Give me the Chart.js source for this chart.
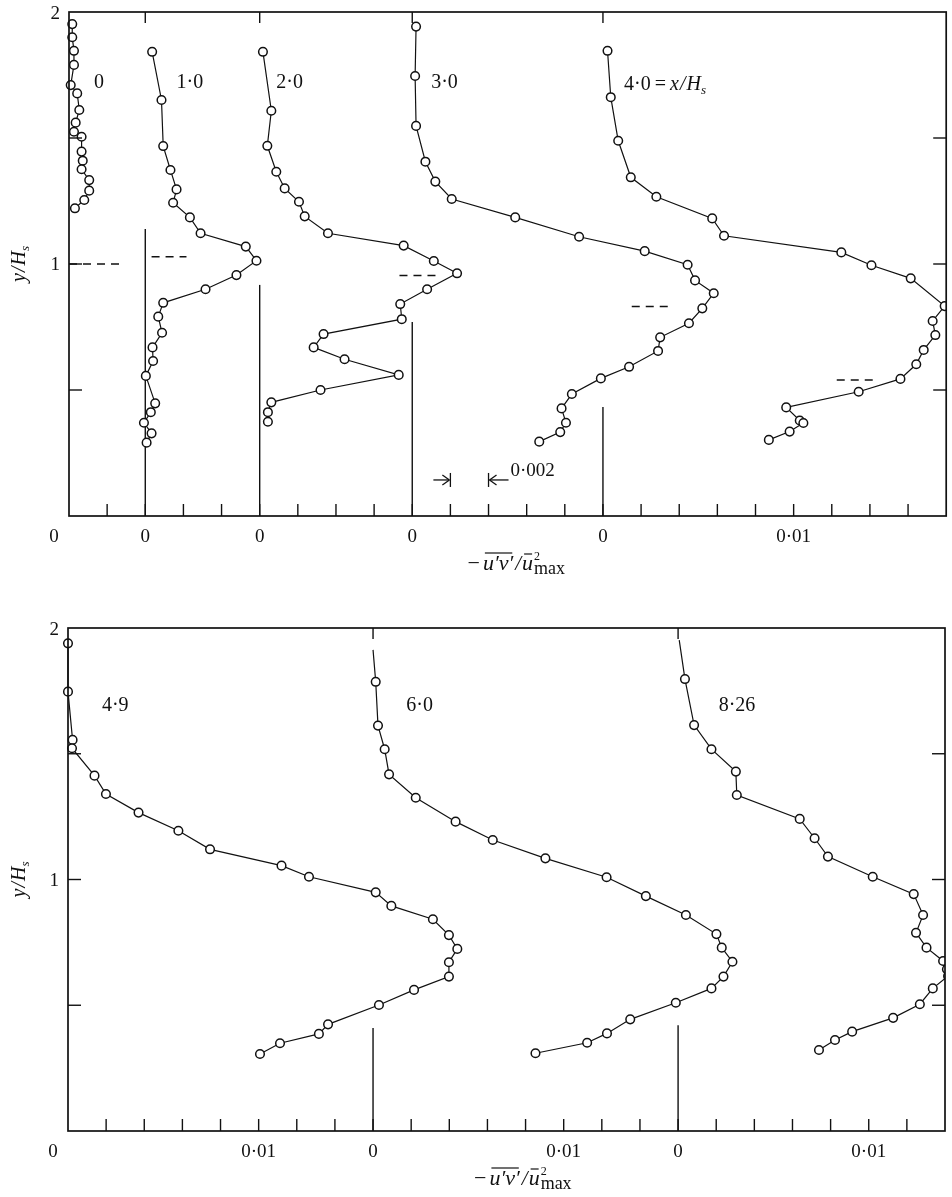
<!DOCTYPE html>
<html lang="en">
<head>
<meta charset="UTF-8">
<title>Shear stress profiles</title>
<script src="https://cdn.jsdelivr.net/npm/chart.js@4.4.1/dist/chart.umd.min.js"></script>
<style>
  body { margin: 0; background: #fff; }
  #wrap { position: relative; width: 952px; height: 1197px; }
  canvas { position: absolute; left: 0; }
</style>
</head>
<body>
<div id="wrap">
  <canvas id="topChart" width="952" height="590" style="top:0"></canvas>
  <canvas id="bottomChart" width="952" height="607" style="top:590px"></canvas>
</div>
<script>
// ---- data: -u'v'/u^2max against y/Hs, each profile relative to its own zero ----
const X_MAX = 0.046;
const X_STEP = 0.002;
const Y_TICKS = [0.5, 1, 1.5];

// top panel, x/Hs = 0, 1.0, 2.0, 3.0, 4.0
const topNames = ['0', '1·0', '2·0', '3·0', '4·0'];
const topZero = [0, 0.004, 0.010, 0.018, 0.028];
const topZeroTop = [null, 1.139, 0.917, 0.770, 0.433];
const topNameX = [0.00157, 0.00634, 0.01157, 0.01969, 0.02911];
const topTickVals = [0, 0.004, 0.010, 0.018, 0.028, 0.038];
const topTickText = ['0', '0', '0', '0', '0', '0·01'];

const p0_y  = [1.952, 1.900, 1.846, 1.790, 1.710, 1.677, 1.611, 1.561, 1.525, 1.505, 1.446, 1.410, 1.376, 1.333, 1.291, 1.254, 1.221];
const p0_uv = [0.00017, 0.00017, 0.00026, 0.00026, 0.00009, 0.00043, 0.00054, 0.00035, 0.00026, 0.00066, 0.00066, 0.00072, 0.00066, 0.00106, 0.00106, 0.0008, 0.00031];

const p1_y  = [1.842, 1.651, 1.468, 1.373, 1.296, 1.243, 1.185, 1.122, 1.069, 1.013, 0.956, 0.900, 0.846, 0.791, 0.727, 0.669, 0.615, 0.556, 0.447, 0.412, 0.370, 0.328, 0.291];
const p1_uv = [0.00036, 0.00085, 0.00094, 0.00132, 0.00164, 0.00146, 0.00234, 0.0029, 0.00527, 0.00583, 0.00478, 0.00316, 0.00094, 0.00068, 0.00088, 0.00038, 0.00041, 0.00003, 0.00052, 0.00029, -0.00007, 0.00033, 0.00007];

const p2_y  = [1.842, 1.608, 1.469, 1.366, 1.300, 1.247, 1.189, 1.122, 1.073, 1.012, 0.963, 0.900, 0.841, 0.781, 0.722, 0.669, 0.622, 0.560, 0.500, 0.451, 0.412, 0.374];
const p2_uv = [0.00017, 0.00061, 0.0004, 0.00087, 0.00131, 0.00206, 0.00236, 0.00358, 0.00755, 0.00913, 0.01035, 0.00878, 0.00737, 0.00745, 0.00335, 0.00283, 0.00445, 0.00729, 0.00319, 0.00061, 0.00043, 0.00043];

const p3_y  = [1.942, 1.746, 1.548, 1.406, 1.327, 1.258, 1.185, 1.108, 1.051, 0.997, 0.935, 0.884, 0.824, 0.765, 0.709, 0.655, 0.592, 0.546, 0.484, 0.427, 0.370, 0.333, 0.295];
const p3_uv = [0.0002, 0.00015, 0.0002, 0.00069, 0.00121, 0.00207, 0.0054, 0.00875, 0.01219, 0.01444, 0.01483, 0.01581, 0.01521, 0.01451, 0.013, 0.01289, 0.01137, 0.00989, 0.00837, 0.00783, 0.00806, 0.00776, 0.00666];

const p4_y  = [1.846, 1.662, 1.489, 1.344, 1.267, 1.181, 1.112, 1.046, 0.995, 0.943, 0.833, 0.774, 0.718, 0.659, 0.602, 0.544, 0.493, 0.431, 0.379, 0.369, 0.335, 0.302];
const p4_uv = [0.00024, 0.00041, 0.0008, 0.00146, 0.0028, 0.00573, 0.00635, 0.0125, 0.01408, 0.01614, 0.01792, 0.01729, 0.01743, 0.01682, 0.01643, 0.0156, 0.01341, 0.00961, 0.01032, 0.01051, 0.00979, 0.0087];

// short dashed marks in the top panel (relative to each zero)
const dashY    = [1.0, 1.029, 0.954, 0.831, 0.540];
const dashFrom = [0, 0.00033, 0.00733, 0.01151, 0.01226];
const dashTo   = [0.00267, 0.00216, 0.00942, 0.01364, 0.01436];

// bottom panel, x/Hs = 4.9, 6.0, 8.26
const botNames = ['4·9', '6·0', '8·26'];
const botZero = [0, 0.016, 0.032];
const botZeroTop = [null, 0.41, 0.42];
const botNameX = [0.00248, 0.01844, 0.03509];
const botTickVals = [0, 0.010, 0.016, 0.026, 0.032, 0.042];
const botTickText = ['0', '0·01', '0', '0·01', '0', '0·01'];

const p49_y  = [1.939, 1.747, 1.555, 1.522, 1.413, 1.340, 1.266, 1.194, 1.120, 1.055, 1.011, 0.949, 0.895, 0.842, 0.779, 0.724, 0.671, 0.614, 0.561, 0.501, 0.424, 0.386, 0.349, 0.306];
const p49_uv = [0, 0, 0.00024, 0.00021, 0.00139, 0.00199, 0.0037, 0.00579, 0.00745, 0.0112, 0.01264, 0.01614, 0.01696, 0.01914, 0.01998, 0.02042, 0.01998, 0.01998, 0.01815, 0.01631, 0.01364, 0.01316, 0.01112, 0.01007];

const p60_y  = [1.786, 1.612, 1.518, 1.418, 1.325, 1.230, 1.157, 1.084, 1.009, 0.934, 0.859, 0.783, 0.729, 0.673, 0.614, 0.567, 0.510, 0.444, 0.388, 0.351, 0.309];
const p60_uv = [0.00014, 0.00026, 0.00061, 0.00084, 0.00224, 0.00433, 0.00628, 0.00904, 0.01225, 0.01431, 0.01641, 0.01801, 0.01829, 0.01885, 0.01838, 0.01775, 0.01588, 0.01349, 0.01227, 0.01123, 0.00852];
const p60_lead = [0, 1.913];

const p826_y  = [1.797, 1.614, 1.518, 1.429, 1.336, 1.241, 1.164, 1.091, 1.011, 0.942, 0.859, 0.788, 0.729, 0.676, 0.643, 0.616, 0.567, 0.504, 0.450, 0.395, 0.362, 0.322];
const p826_uv = [0.00036, 0.00084, 0.00175, 0.00303, 0.00308, 0.00638, 0.00716, 0.00786, 0.01021, 0.01236, 0.01285, 0.01248, 0.01303, 0.0139, 0.0141, 0.01416, 0.01336, 0.01268, 0.01128, 0.00913, 0.00823, 0.00739];
const p826_lead = [0.00006, 1.952];

const INK = '#111';
const SERIF = '"Liberation Serif", "DejaVu Serif", serif';

function profile(uv, y, zero, lead) {
  const pts = y.map((v, i) => ({ x: zero + uv[i], y: v }));
  if (lead) pts.unshift({ x: zero + lead[0], y: lead[1] });
  return {
    data: pts,
    showLine: true,
    borderColor: INK,
    borderWidth: 1.2,
    tension: 0,
    pointStyle: 'circle',
    pointRadius: pts.map((_, i) => (lead && i === 0 ? 0 : 4.3)),
    pointBorderWidth: 1.5,
    pointBackgroundColor: '#fff',
    pointBorderColor: INK,
    clip: { left: 10, top: 10, right: 0, bottom: 10 }
  };
}

function dash(i) {
  return {
    data: [{ x: topZero[i] + dashFrom[i], y: dashY[i] }, { x: topZero[i] + dashTo[i], y: dashY[i] }],
    showLine: true, borderColor: INK, borderWidth: 1.5, borderDash: [8, 6],
    pointRadius: 0, clip: false
  };
}

function seg(ctx, x1, y1, x2, y2) {
  ctx.beginPath(); ctx.moveTo(x1, y1); ctx.lineTo(x2, y2); ctx.stroke();
}

// draws a row of text pieces (font, shift, overline)
function rich(ctx, pieces, x, y, align) {
  let w = 0;
  pieces.forEach(p => {
    ctx.font = p.f; p.w = ctx.measureText(p.t).width;
    if (!p.stack) w += p.w + (p.gap || 0);
  });
  let cx = align === 'center' ? x - w / 2 : x;
  let prevX = cx, prevW = 0;
  ctx.textAlign = 'left';
  ctx.textBaseline = 'alphabetic';
  pieces.forEach(p => {
    ctx.font = p.f;
    const px = p.stack ? prevX : cx;
    ctx.fillText(p.t, px, y + (p.dy || 0));
    if (p.over) {
      ctx.lineWidth = 1.2;
      seg(ctx, px + 2, y - p.over, px + p.w - 1, y - p.over);
    }
    if (p.stack) {
      cx = prevX + Math.max(prevW, p.w) + (p.gap || 0);
    } else {
      prevX = cx; prevW = p.w;
      cx += p.w + (p.gap || 0);
    }
  });
}

function arrow(ctx, x1, x2, y) {
  seg(ctx, x1, y, x2, y);
  const d = x2 > x1 ? -1 : 1;
  seg(ctx, x2, y, x2 + d * 7, y - 5);
  seg(ctx, x2, y, x2 + d * 7, y + 5);
}

function framePlugin(cfg) {
  return {
    id: 'frame',
    beforeDatasetsDraw(chart) {
      const { ctx, chartArea: a, scales: { x, y } } = chart;
      ctx.save();
      ctx.strokeStyle = INK;
      ctx.lineWidth = 1.4;
      cfg.zeros.forEach((z, i) => {
        if (cfg.zeroTop[i] == null) return;
        const px = x.getPixelForValue(z);
        seg(ctx, px, a.bottom, px, y.getPixelForValue(cfg.zeroTop[i]));
        seg(ctx, px, a.top, px, a.top + 11);
      });
      ctx.restore();
    },
    afterDatasetsDraw(chart) {
      const { ctx, chartArea: a, scales: { x, y } } = chart;
      ctx.save();
      ctx.strokeStyle = INK;
      ctx.fillStyle = INK;
      ctx.lineWidth = 1.7;
      ctx.strokeRect(a.left, a.top, a.right - a.left, a.bottom - a.top);

      // inward ticks
      ctx.lineWidth = 1.4;
      for (let v = X_STEP; v < X_MAX - 1e-9; v += X_STEP) {
        const px = x.getPixelForValue(v);
        seg(ctx, px, a.bottom, px, a.bottom - 12);
      }
      Y_TICKS.forEach(t => {
        const py = y.getPixelForValue(t);
        seg(ctx, a.left, py, a.left + 13, py);
        seg(ctx, a.right, py, a.right - 13, py);
      });

      // tick labels
      ctx.font = '19px ' + SERIF;
      ctx.textBaseline = 'alphabetic';
      ctx.textAlign = 'center';
      cfg.tickVals.forEach((v, i) => {
        let px = x.getPixelForValue(v);
        if (i === 0) px -= 15;
        ctx.fillText(cfg.tickText[i], px, a.bottom + 26);
      });
      ctx.textAlign = 'right';
      ctx.fillText('2', a.left - 9, y.getPixelForValue(2) + 7);
      ctx.fillText('1', a.left - 9, y.getPixelForValue(1) + 6);

      // profile labels
      cfg.names.forEach((n, i) => {
        const px = x.getPixelForValue(cfg.nameX[i]);
        const py = y.getPixelForValue(cfg.nameY);
        if (cfg.key && i === cfg.names.length - 1) {
          rich(ctx, [
            { t: n, f: '20px ' + SERIF, gap: 4 },
            { t: '=', f: '20px ' + SERIF, gap: 4 },
            { t: 'x', f: 'italic 20px ' + SERIF, gap: 1 },
            { t: '/', f: 'italic 20px ' + SERIF, gap: 1 },
            { t: 'H', f: 'italic 20px ' + SERIF },
            { t: 's', f: 'italic 13px ' + SERIF, dy: 4 }
          ], px, py + 7, 'left');
        } else {
          ctx.font = '20px ' + SERIF;
          ctx.textAlign = 'center';
          ctx.textBaseline = 'middle';
          ctx.fillText(n, px, py);
        }
      });

      // x title
      rich(ctx, [
        { t: '−', f: '22px ' + SERIF, gap: 3 },
        { t: 'u′v′', f: 'italic 22px ' + SERIF, over: 17, gap: 2 },
        { t: '/', f: 'italic 21px ' + SERIF, gap: 1 },
        { t: 'u', f: 'italic 22px ' + SERIF, over: 16, gap: 1 },
        { t: '2', f: '12px ' + SERIF, dy: -10 },
        { t: 'max', f: '18px ' + SERIF, dy: 4, stack: true }
      ], x.getPixelForValue(cfg.titleX), a.bottom + 54, 'center');

      // y title
      ctx.save();
      ctx.translate(25, y.getPixelForValue(1.0));
      ctx.rotate(-Math.PI / 2);
      rich(ctx, [
        { t: 'y', f: 'italic 20px ' + SERIF, gap: 1 },
        { t: '/', f: 'italic 20px ' + SERIF, gap: 1 },
        { t: 'H', f: 'italic 20px ' + SERIF },
        { t: 's', f: 'italic 13px ' + SERIF, dy: 4 }
      ], 0, 0, 'center');
      ctx.restore();

      // 0.002 scale bar
      if (cfg.scaleBar) {
        const yb = y.getPixelForValue(0.143);
        const xa = x.getPixelForValue(0.020), xb = x.getPixelForValue(0.022);
        ctx.lineWidth = 1.3;
        seg(ctx, xa, yb - 7, xa, yb + 7);
        seg(ctx, xb, yb - 7, xb, yb + 7);
        arrow(ctx, xa - 17, xa - 1, yb);
        arrow(ctx, xb + 20, xb + 1, yb);
        ctx.font = '19px ' + SERIF;
        ctx.textAlign = 'left';
        ctx.textBaseline = 'alphabetic';
        ctx.fillText('0·002', xb + 22, yb - 4);
      }
      ctx.restore();
    }
  };
}

function makeChart(id, datasets, pad, cfg) {
  return new Chart(document.getElementById(id), {
    type: 'scatter',
    data: { datasets },
    options: {
      responsive: false,
      animation: false,
      events: [],
      layout: { padding: pad },
      plugins: { legend: { display: false }, tooltip: { enabled: false } },
      scales: {
        x: { type: 'linear', min: 0, max: X_MAX, display: false },
        y: { type: 'linear', min: 0, max: 2, display: false }
      }
    },
    plugins: [framePlugin(cfg)]
  });
}

makeChart('topChart', [
  dash(0), dash(1), dash(2), dash(3), dash(4),
  profile(p0_uv, p0_y, topZero[0]),
  profile(p1_uv, p1_y, topZero[1]),
  profile(p2_uv, p2_y, topZero[2]),
  profile(p3_uv, p3_y, topZero[3]),
  profile(p4_uv, p4_y, topZero[4])
], { left: 69, right: 5, top: 12, bottom: 74 }, {
  zeros: topZero, zeroTop: topZeroTop, names: topNames, nameX: topNameX, nameY: 1.72,
  tickVals: topTickVals, tickText: topTickText, titleX: 0.0228, scaleBar: true, key: true
});

makeChart('bottomChart', [
  profile(p49_uv, p49_y, botZero[0]),
  profile(p60_uv, p60_y, botZero[1], p60_lead),
  profile(p826_uv, p826_y, botZero[2], p826_lead)
], { left: 68, right: 7, top: 38, bottom: 66 }, {
  zeros: botZero, zeroTop: botZeroTop, names: botNames, nameX: botNameX, nameY: 1.69,
  tickVals: botTickVals, tickText: botTickText, titleX: 0.0232, scaleBar: false, key: false
});
</script>
</body>
</html>
